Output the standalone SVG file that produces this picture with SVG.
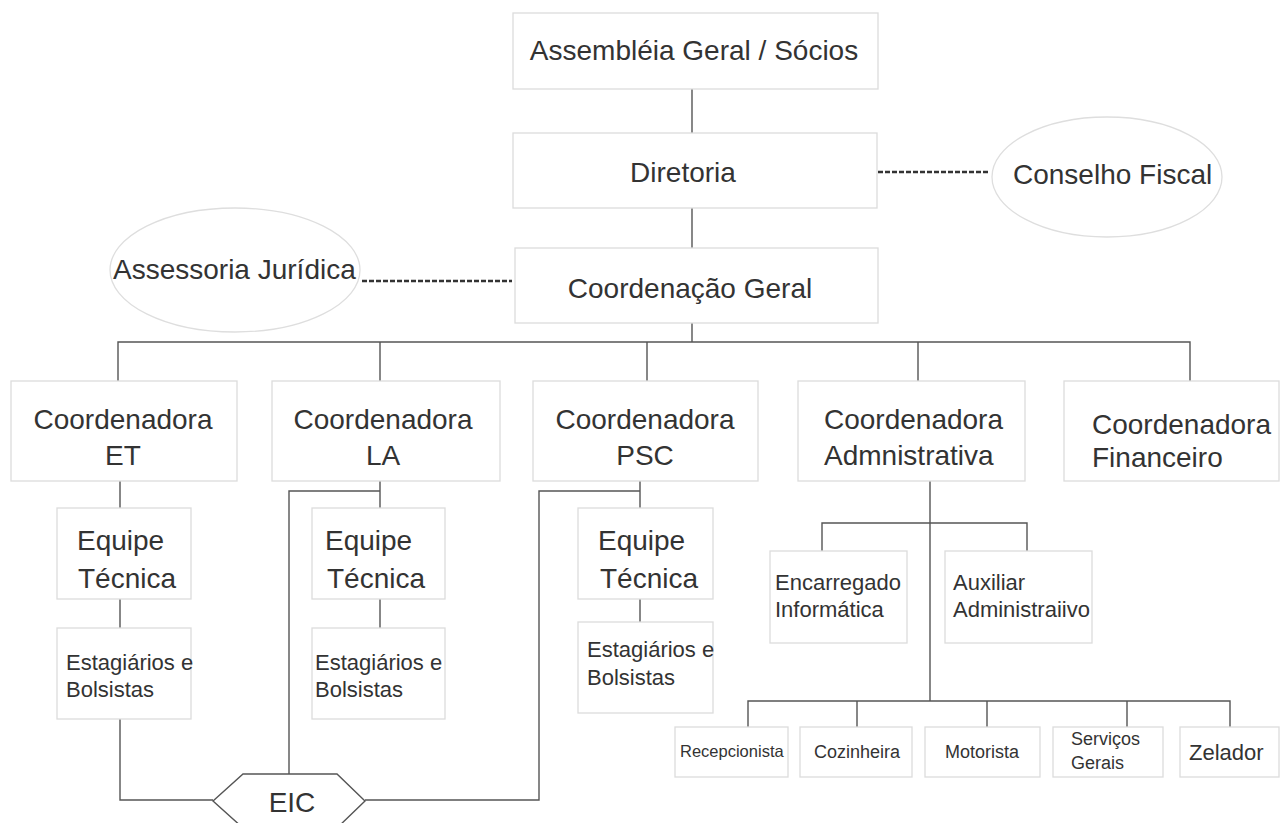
<svg xmlns="http://www.w3.org/2000/svg" width="1280" height="823" viewBox="0 0 1280 823">
<style>
.box{fill:#fff;stroke:#dcdcdc;stroke-width:1.3}
.ell{fill:#fff;stroke:#dedede;stroke-width:1.3}
.ln{fill:none;stroke:#555;stroke-width:1.4}
.dash{fill:none;stroke:#333;stroke-width:2.4;stroke-dasharray:5,2}
text{font-family:"Liberation Sans",Arial,sans-serif;fill:#333}
.t28{font-size:28px}
.t22{font-size:22px}
.t18{font-size:18px}
.t17{font-size:16.5px}
.c{text-anchor:middle}
</style>
<rect width="1280" height="823" fill="#fff"/>
<g id="connectors">
<line class="ln" x1="692" y1="89" x2="692" y2="133"/>
<line class="ln" x1="692" y1="208" x2="692" y2="248"/>
<line class="ln" x1="692" y1="323" x2="692" y2="342"/>
<line class="dash" x1="878" y1="172" x2="990" y2="172"/>
<line class="dash" x1="362" y1="281" x2="512" y2="281"/>
<path class="ln" d="M118 381 V342 H1190 V381 M380 342 V381 M647 342 V381 M918 342 V381"/>
<path class="ln" d="M120 481 V508 M120 599 V628 M120 719 V800 H213"/>
<path class="ln" d="M380 481 V508 M380 491 H289 V774 M380 599 V628"/>
<path class="ln" d="M640 481 V508 M640 491 H539 V800 H365 M640 599 V622"/>
<path class="ln" d="M930 481 V701 M822 551 V523 H1027 V551"/>
<path class="ln" d="M748 727 V701 H1230 V727 M857 701 V727 M987 701 V727 M1127 701 V727"/>
</g>
<g id="assembleia"><rect class="box" x="513" y="13" width="365" height="76"/><text class="t28 c" x="694" y="60">Assembléia Geral / Sócios</text></g>
<g id="diretoria"><rect class="box" x="513" y="133" width="364" height="75"/><text class="t28 c" x="683" y="182">Diretoria</text></g>
<g id="conselho"><ellipse class="ell" cx="1107" cy="177" rx="115" ry="60"/><text class="t28" x="1013" y="184">Conselho Fiscal</text></g>
<g id="coordgeral"><rect class="box" x="515" y="248" width="363" height="75"/><text class="t28 c" x="690" y="298">Coordenação Geral</text></g>
<g id="assessoria"><ellipse class="ell" cx="235" cy="270" rx="125" ry="62"/><text class="t28" x="113" y="279">Assessoria Jurídica</text></g>
<g id="coord-et"><rect class="box" x="11" y="381" width="226" height="100"/><text class="t28 c" x="123" y="429">Coordenadora</text><text class="t28 c" x="123" y="465">ET</text></g>
<g id="coord-la"><rect class="box" x="272" y="381" width="228" height="100"/><text class="t28 c" x="383" y="429">Coordenadora</text><text class="t28 c" x="383" y="465">LA</text></g>
<g id="coord-psc"><rect class="box" x="533" y="381" width="225" height="100"/><text class="t28 c" x="645" y="429">Coordenadora</text><text class="t28 c" x="645" y="465">PSC</text></g>
<g id="coord-adm"><rect class="box" x="798" y="381" width="227" height="100"/><text class="t28" x="824" y="429">Coordenadora</text><text class="t28" x="824" y="465">Admnistrativa</text></g>
<g id="coord-fin"><rect class="box" x="1064" y="381" width="215" height="100"/><text class="t28" x="1092" y="434">Coordenadora</text><text class="t28" x="1092" y="467">Financeiro</text></g>
<g id="equipe-et"><rect class="box" x="57" y="508" width="134" height="91"/><text class="t28" x="77" y="550">Equipe</text><text class="t28" x="78" y="588">Técnica</text></g>
<g id="equipe-la"><rect class="box" x="312" y="508" width="133" height="91"/><text class="t28" x="325" y="550">Equipe</text><text class="t28" x="327" y="588">Técnica</text></g>
<g id="equipe-psc"><rect class="box" x="578" y="508" width="135" height="91"/><text class="t28" x="598" y="550">Equipe</text><text class="t28" x="600" y="588">Técnica</text></g>
<g id="estag-et"><rect class="box" x="57" y="628" width="134" height="91"/><text class="t22" x="66" y="670">Estagiários e</text><text class="t22" x="66" y="697">Bolsistas</text></g>
<g id="estag-la"><rect class="box" x="312" y="628" width="133" height="91"/><text class="t22" x="315" y="670">Estagiários e</text><text class="t22" x="315" y="697">Bolsistas</text></g>
<g id="estag-psc"><rect class="box" x="578" y="622" width="135" height="91"/><text class="t22" x="587" y="657">Estagiários e</text><text class="t22" x="587" y="685">Bolsistas</text></g>
<g id="eic"><polygon class="box" style="stroke:#555;stroke-width:1.4" points="213,801 243,774 337,774 365,801 337,828 243,828"/><text class="t28 c" x="292" y="812">EIC</text></g>
<g id="encarregado"><rect class="box" x="770" y="551" width="137" height="92"/><text class="t22" x="775" y="590">Encarregado</text><text class="t22" x="775" y="617">Informática</text></g>
<g id="auxiliar"><rect class="box" x="945" y="551" width="147" height="92"/><text class="t22" x="953" y="590">Auxiliar</text><text class="t22" x="953" y="617">Administraiivo</text></g>
<g id="recepcionista"><rect class="box" x="675" y="727" width="113" height="50"/><text class="t17" x="680" y="757">Recepcionista</text></g>
<g id="cozinheira"><rect class="box" x="800" y="727" width="112" height="50"/><text class="t18" x="814" y="758">Cozinheira</text></g>
<g id="motorista"><rect class="box" x="925" y="727" width="115" height="50"/><text class="t18" x="945" y="758">Motorista</text></g>
<g id="servicos"><rect class="box" x="1053" y="727" width="110" height="50"/><text class="t18" x="1071" y="745">Serviços</text><text class="t18" x="1071" y="769">Gerais</text></g>
<g id="zelador"><rect class="box" x="1180" y="727" width="99" height="50"/><text class="t22" x="1189" y="760">Zelador</text></g>
</svg>
